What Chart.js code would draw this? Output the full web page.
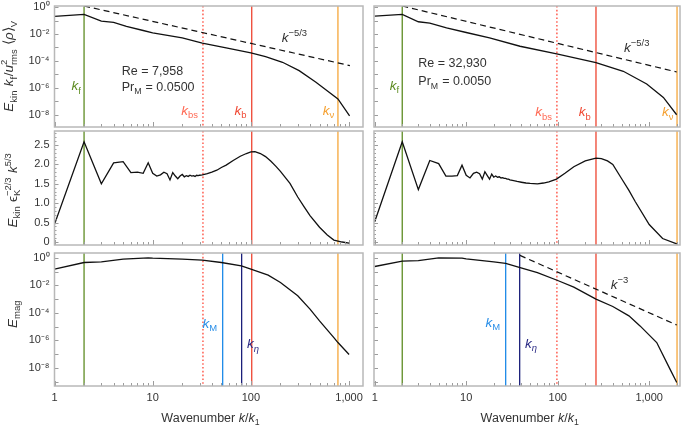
<!DOCTYPE html>
<html><head><meta charset="utf-8">
<script src="https://cdn.jsdelivr.net/npm/chart.js@4.4.1/dist/chart.umd.min.js"></script>
<style>
html,body{margin:0;padding:0;background:#fff;}
#wrap{position:relative;width:685px;height:426px;overflow:hidden;background:#fff;}
canvas{position:absolute;left:0;top:0;width:685px;height:426px;}
</style></head>
<body><div id="wrap">
<canvas id="c0" width="685" height="426"></canvas>
<canvas id="c1" width="685" height="426"></canvas>
<canvas id="c2" width="685" height="426"></canvas>
<canvas id="c3" width="685" height="426"></canvas>
<canvas id="c4" width="685" height="426"></canvas>
<canvas id="c5" width="685" height="426"></canvas>
</div>
<script>
// ================= DATA =================
// Top row: normalised kinetic spectrum
const kinK_L = [1, 2, 3, 4, 5.4, 8, 10, 20, 32, 56, 100, 141, 210, 310, 460, 770, 1012];
const kinE_L = [0.204, 0.288, 0.0912, 0.0724, 0.0363, 0.0182, 0.0123, 5.25e-3, 2.09e-3, 9.3e-4, 3.98e-4, 2.09e-4, 7.9e-5, 1.9e-5, 2.57e-6, 1.48e-7, 8.3e-9];
const kinK_R = [1, 2, 3, 4, 6.1, 10, 18, 38.7, 97.5, 262, 521, 939, 1428, 1995];
const kinE_R = [0.214, 0.288, 0.0813, 0.0646, 0.0288, 0.0129, 5.25e-3, 1.23e-3, 3.31e-4, 7.6e-5, 1.7e-5, 1.95e-6, 1.95e-7, 1.0e-8];
// k^-5/3 reference lines (end points)
const slopeK_L = [2, 1020];
const slopeE_L = [1.2, 4.5e-5];
const slopeK_R = [2, 2000];
const slopeE_R = [1.2, 1.5e-5];

// Middle row: compensated kinetic spectrum
const midK_L = [1,2,3,4,5,6,7,8,9,10,11,12,13,14,15,16,17,18,19,20,21,22,23,24,25,26,27,28,29,30,32,36,40,45,50,56,66,78,90,100,110,125,141,160,180,200,250,300,350,400,500,600,700,850,1000];
const midE_L = [0.46,2.58,1.50,2.04,2.07,1.79,1.80,1.77,2.04,1.77,1.70,1.73,1.80,1.76,1.60,1.79,1.70,1.63,1.70,1.74,1.68,1.71,1.69,1.72,1.70,1.71,1.69,1.72,1.71,1.72,1.73,1.76,1.80,1.85,1.92,1.98,2.10,2.21,2.28,2.32,2.33,2.28,2.20,2.08,1.95,1.82,1.51,1.16,0.90,0.68,0.38,0.18,0.05,0.0,-0.03];
const midK_R = [1,2,3,4,5,6,7,8,9,10,11,12,13,14,15,16,17,18,19,20,21,22,23,24,25,26,27,28,29,30,33,36,40,45,50,60,70,80,97,120,150,200,262,300,350,400,500,600,700,1000,1400,2000];
const midE_R = [0.52,2.58,1.35,2.10,2.02,1.70,1.70,1.71,1.98,1.72,1.65,1.77,1.80,1.76,1.62,1.81,1.71,1.62,1.75,1.67,1.70,1.67,1.68,1.65,1.66,1.64,1.64,1.62,1.62,1.60,1.58,1.56,1.54,1.52,1.51,1.50,1.52,1.55,1.62,1.77,1.94,2.09,2.16,2.15,2.09,2.00,1.63,1.33,1.05,0.45,0.09,-0.05];

// Bottom row: magnetic spectrum
const magK_L = [1, 2, 3, 5, 9, 10, 20, 32, 50, 80, 100, 150, 200, 300, 400, 500, 700, 770, 1000];
const magE_L = [0.151, 0.457, 0.513, 0.794, 1.0, 0.955, 0.794, 0.676, 0.457, 0.263, 0.151, 0.055, 0.0162, 1.74e-3, 1.86e-4, 2.63e-5, 1.58e-6, 6.9e-7, 9.3e-8];
const magK_R = [1, 2, 3, 5, 9, 10, 20, 27, 38, 60, 100, 150, 262, 400, 600, 794, 1208, 1687, 2000];
const magE_R = [0.234, 0.575, 0.631, 1.0, 0.955, 0.851, 0.513, 0.389, 0.2, 0.0851, 0.0224, 7.4e-3, 1.0e-3, 2.9e-4, 6.0e-5, 1.12e-5, 6.9e-7, 8.1e-9, 8.5e-10];
// k^-3 reference line (end points)
const slope3K_R = [38.7, 2000];
const slope3E_R = [1.5, 1.3e-5];

// Characteristic wavenumbers
const markerKeys = ['kf', 'kbs', 'kb', 'knu', 'kM', 'keta'];
const markerK_L = [2, 32.5, 102, 770, 51.6, 80.5];
const markerK_R = [2, 98, 262, 2014, 27, 38.4];

// Annotation texts
const reText = ['Re = 7,958', 'Re = 32,930'];
const prText = [' = 0.0500', ' = 0.0050'];

// Tick labels
const xLabelVals = [1, 10, 100, 1000];
const yLogLabelVals = [1e-8, 1e-6, 1e-4, 1e-2, 1];
const yLinLabelVals = [0, 0.5, 1.0, 1.5, 2.0, 2.5];

// ================= STYLE / LAYOUT =================
const W = 685, H = 426;
const FONT = '"Liberation Sans", Arial, sans-serif';
const TXT = '#333';
const COLS = [{l: 54.5, r: 363}, {l: 374, r: 680}];
const ROWS = [{t: 6, b: 127}, {t: 131, b: 245}, {t: 253, b: 386}];
const X_RANGE = [[1, 1386], [0.9826, 2170]];
const Y_RANGE = [[Math.pow(10, -8.91), Math.pow(10, 0.08)], [-0.077, 2.86], [Math.pow(10, -9.32), Math.pow(10, 0.35)]];
const MSTYLE = {
  kf:   {line: '#5e8c22', text: '#5e8c22', sub: 'f'},
  kbs:  {line: '#ff4536', text: '#ff6a55', sub: 'bs', dash: [1.6, 2.2]},
  kb:   {line: '#ee4430', text: '#f04a35', sub: 'b'},
  knu:  {line: '#f5a63a', text: '#f5a030', sub: 'ν'},
  kM:   {line: '#1d8ae8', text: '#2a8fe8', sub: 'M'},
  keta: {line: '#1b1f7a', text: '#2a2a85', sub: 'η'}
};

const SUP = {'-': '⁻', '0': '⁰', '1': '¹', '2': '²', '3': '³', '4': '⁴', '5': '⁵', '6': '⁶', '7': '⁷', '8': '⁸', '9': '⁹'};
function supLabel(v) {
  const e = Math.round(Math.log10(v));
  return '10' + String(e).split('').map(c => SUP[c]).join('');
}

function drawRich(ctx, parts, x, y, size, color, align) {
  const small = size * 0.7;
  const fontOf = (sz, it) => (it ? 'italic ' : '') + sz + 'px ' + FONT;
  const items = [];
  let w = 0;
  for (const p of parts) {
    if (Array.isArray(p)) {
      const t = p[0], f = p[1] || '';
      const it = f.includes('i'), sb = f.includes('b'), sp = f.includes('p');
      const sz = (sb || sp) ? small : size;
      const fnt = fontOf(sz, it);
      ctx.font = fnt;
      const tw = ctx.measureText(t).width;
      items.push({t, fnt, dx: w, dy: sb ? size * 0.28 : sp ? -size * 0.42 : 0});
      w += tw + ((sb || sp) ? 0.6 : 0);
    } else {
      const fnt = fontOf(small, false);
      ctx.font = fnt;
      const w1 = ctx.measureText(p.p).width, w2 = ctx.measureText(p.b).width;
      items.push({t: p.p, fnt, dx: w, dy: -size * 0.42});
      items.push({t: p.b, fnt, dx: w, dy: size * 0.28});
      w += Math.max(w1, w2) + 0.6;
    }
  }
  const x0 = align === 'right' ? x - w : align === 'center' ? x - w / 2 : x;
  ctx.fillStyle = color;
  ctx.textBaseline = 'alphabetic';
  ctx.textAlign = 'left';
  for (const it of items) { ctx.font = it.fnt; ctx.fillText(it.t, x0 + it.dx, y + it.dy); }
  return w;
}
function drawRichRot(ctx, parts, bx, cy, size, color) {
  ctx.save();
  ctx.translate(bx, cy);
  ctx.rotate(-Math.PI / 2);
  drawRich(ctx, parts, 0, 0, size, color, 'center');
  ctx.restore();
}

function toXY(ks, vs) { return ks.map((k, i) => ({x: k, y: vs[i]})); }
function curve(ks, vs) {
  return {data: toXY(ks, vs), borderColor: '#111', borderWidth: 1.3, pointRadius: 0, tension: 0.0, fill: false};
}
function dashed(ks, vs) {
  return {data: toXY(ks, vs), borderColor: '#111', borderWidth: 1.2, borderDash: [6, 4], pointRadius: 0, tension: 0, fill: false};
}

function panelPlugin(spec) {
  return {
    id: 'panel' + spec.id,
    beforeDatasetsDraw(chart) {
      const {ctx, chartArea: a, scales: {x}} = chart;
      ctx.save();
      spec.markers.forEach(key => {
        const k = spec.markerK[markerKeys.indexOf(key)];
        const st = MSTYLE[key];
        const px = x.getPixelForValue(k);
        ctx.strokeStyle = st.line;
        ctx.lineWidth = 1.3;
        ctx.setLineDash(st.dash || []);
        ctx.beginPath(); ctx.moveTo(px, a.top); ctx.lineTo(px, a.bottom); ctx.stroke();
      });
      ctx.restore();
    },
    afterDatasetsDraw(chart) {
      const {ctx, chartArea: a, scales: {x, y}} = chart;
      ctx.save();
      ctx.strokeStyle = '#9c9c9c';
      ctx.lineWidth = 1;
      ctx.setLineDash([]);
      ctx.beginPath();
      for (let d = 0; d <= 3; d++) {
        for (let m = 1; m <= 9; m++) {
          const v = m * Math.pow(10, d);
          if (v < x.min || v > x.max) continue;
          const px = Math.round(x.getPixelForValue(v)) + 0.5;
          if (px < a.left + 1 || px > a.right - 1) continue;
          const len = m === 1 ? 5 : 3;
          ctx.moveTo(px, a.bottom); ctx.lineTo(px, a.bottom - len);
        }
      }
      if (spec.yType === 'logarithmic') {
        for (let e = -9; e <= 0; e++) {
          const v = Math.pow(10, e);
          if (v < y.min || v > y.max) continue;
          const py = Math.round(y.getPixelForValue(v)) + 0.5;
          ctx.moveTo(a.left, py); ctx.lineTo(a.left + 4, py);
        }
      } else {
        for (let i = 0; i <= 28; i++) {
          const v = i / 10;
          const py = Math.round(y.getPixelForValue(v)) + 0.5;
          const len = (i % 5 === 0) ? 4 : 2;
          ctx.moveTo(a.left, py); ctx.lineTo(a.left + len, py);
        }
      }
      ctx.stroke();
      ctx.strokeStyle = '#b8b8b8';
      ctx.lineWidth = 1.5;
      ctx.strokeRect(a.left, a.top, a.right - a.left, a.bottom - a.top);
      ctx.restore();
    },
    afterDraw(chart) {
      if (spec.annotate) {
        const ctx = chart.ctx;
        ctx.save();
        spec.annotate(chart, ctx);
        ctx.restore();
      }
    }
  };
}

function makeChart(id, ci, ri, spec) {
  const c = COLS[ci], r = ROWS[ri];
  const xr = X_RANGE[ci], yr = Y_RANGE[ri];
  spec.id = id;
  const yAxisW = ci === 0 ? 50 : 0;
  const xAxisH = ri === 2 ? 28 : 0;
  const fitX = s => { s.height = xAxisH; s.paddingLeft = 0; s.paddingRight = 0; s.paddingTop = 0; s.paddingBottom = 0; };
  const fitY = s => { s.width = yAxisW; s.paddingLeft = 0; s.paddingRight = 0; s.paddingTop = 0; s.paddingBottom = 0; };
  const yLog = spec.yType === 'logarithmic';
  return new Chart(document.getElementById(id), {
    type: 'line',
    data: {datasets: spec.datasets},
    options: {
      responsive: false, animation: false, events: [],
      layout: {autoPadding: false, padding: {left: c.l - yAxisW, right: W - c.r, top: r.t, bottom: H - r.b - xAxisH}},
      plugins: {legend: {display: false}, tooltip: {enabled: false}},
      scales: {
        x: {
          type: 'logarithmic', min: xr[0], max: xr[1],
          grid: {display: false, drawTicks: false}, border: {display: false},
          ticks: {display: ri === 2, font: {family: FONT, size: 11}, color: TXT, padding: 5, autoSkip: false, maxRotation: 0, minRotation: 0,
                  callback: v => v.toLocaleString('en-US')},
          afterBuildTicks: s => { s.ticks = xLabelVals.filter(v => v >= s.min && v <= s.max).map(v => ({value: v})); },
          afterFit: fitX
        },
        y: {
          type: spec.yType, min: yr[0], max: yr[1],
          grid: {display: false, drawTicks: false}, border: {display: false},
          ticks: {display: ci === 0, font: {family: FONT, size: 11}, color: TXT, padding: 5, autoSkip: false,
                  callback: v => yLog ? supLabel(v) : (v === 0 ? '0' : v.toFixed(1))},
          afterBuildTicks: s => { s.ticks = (yLog ? yLogLabelVals : yLinLabelVals).map(v => ({value: v})); },
          afterFit: fitY
        }
      }
    },
    plugins: [panelPlugin(spec)]
  });
}

function kLabel(ctx, x, key, k, baseline, side, gap) {
  const px = x.getPixelForValue(k);
  const st = MSTYLE[key];
  drawRich(ctx, [['k', 'i'], [st.sub, 'b' + (key === 'keta' ? 'i' : '')]], side === 'right' ? px + gap : px - gap, baseline, 13.5, st.text, side === 'right' ? 'left' : 'right');
}

const topMarkers = ['kf', 'kbs', 'kb', 'knu'];
const botMarkers = ['kf', 'kbs', 'kM', 'keta', 'kb', 'knu'];

makeChart('c0', 0, 0, {
  yType: 'logarithmic', markers: topMarkers, markerK: markerK_L,
  datasets: [dashed(slopeK_L, slopeE_L), curve(kinK_L, kinE_L)],
  annotate(chart, ctx) {
    const x = chart.scales.x;
    kLabel(ctx, x, 'kf', markerK_L[0], 90, 'left', 2.6);
    kLabel(ctx, x, 'kbs', markerK_L[1], 114.5, 'left', 4.4);
    kLabel(ctx, x, 'kb', markerK_L[2], 114.5, 'left', 4.6);
    kLabel(ctx, x, 'knu', markerK_L[3], 114.5, 'left', 3);
    drawRich(ctx, [['k', 'i'], ['−5/3', 'p']], 281.7, 41.7, 13.5, TXT, 'left');
    drawRich(ctx, [[reText[0]]], 121.7, 74.7, 12.5, TXT, 'left');
    drawRich(ctx, [['Pr'], ['M', 'b'], [prText[0]]], 121.7, 90.7, 12.5, TXT, 'left');
    drawRichRot(ctx, [['E', 'i'], ['kin', 'b'], [' '], ['k', 'i'], ['f', 'b'], ['/'], ['u', 'i'], {p: '2', b: 'rms'}, [' '], ['⟨'], ['ρ', 'i'], ['⟩'], ['V', 'b']], 13, 66, 13.5, TXT);
  }
});
makeChart('c1', 1, 0, {
  yType: 'logarithmic', markers: topMarkers, markerK: markerK_R,
  datasets: [dashed(slopeK_R, slopeE_R), curve(kinK_R, kinE_R)],
  annotate(chart, ctx) {
    const x = chart.scales.x;
    kLabel(ctx, x, 'kf', markerK_R[0], 89.5, 'left', 2.6);
    kLabel(ctx, x, 'kbs', markerK_R[1], 116, 'left', 4.4);
    kLabel(ctx, x, 'kb', markerK_R[2], 116, 'left', 4.6);
    kLabel(ctx, x, 'knu', markerK_R[3], 116, 'left', 3);
    drawRich(ctx, [['k', 'i'], ['−5/3', 'p']], 624, 51.7, 13.5, TXT, 'left');
    drawRich(ctx, [[reText[1]]], 418.3, 67.3, 12.5, TXT, 'left');
    drawRich(ctx, [['Pr'], ['M', 'b'], [prText[1]]], 418.3, 85, 12.5, TXT, 'left');
  }
});
makeChart('c2', 0, 1, {
  yType: 'linear', markers: topMarkers, markerK: markerK_L,
  datasets: [curve(midK_L, midE_L)],
  annotate(chart, ctx) {
    drawRichRot(ctx, [['E', 'i'], ['kin', 'b'], [' '], ['ϵ'], {p: '−2/3', b: 'K'}, [' '], ['k', 'i'], ['5/3', 'p']], 16.7, 190, 13.5, TXT);
  }
});
makeChart('c3', 1, 1, {
  yType: 'linear', markers: topMarkers, markerK: markerK_R,
  datasets: [curve(midK_R, midE_R)]
});
makeChart('c4', 0, 2, {
  yType: 'logarithmic', markers: botMarkers, markerK: markerK_L,
  datasets: [curve(magK_L, magE_L)],
  annotate(chart, ctx) {
    const x = chart.scales.x, a = chart.chartArea;
    kLabel(ctx, x, 'kM', markerK_L[4], 327.7, 'left', 5);
    kLabel(ctx, x, 'keta', markerK_L[5], 348.3, 'right', 5.4);
    drawRichRot(ctx, [['E', 'i'], ['mag', 'b']], 16.7, 314, 13.5, TXT);
    drawRich(ctx, [['Wavenumber '], ['k', 'i'], ['/'], ['k', 'i'], ['1', 'b']], (a.left + a.right) / 2 + 2, 421.5, 12.5, TXT, 'center');
  }
});
makeChart('c5', 1, 2, {
  yType: 'logarithmic', markers: botMarkers, markerK: markerK_R,
  datasets: [dashed(slope3K_R, slope3E_R), curve(magK_R, magE_R)],
  annotate(chart, ctx) {
    const x = chart.scales.x, a = chart.chartArea;
    kLabel(ctx, x, 'kM', markerK_R[4], 326.7, 'left', 5);
    kLabel(ctx, x, 'keta', markerK_R[5], 347.7, 'right', 5.4);
    drawRich(ctx, [['k', 'i'], ['−3', 'p']], 610.7, 289, 13.5, TXT, 'left');
    drawRich(ctx, [['Wavenumber '], ['k', 'i'], ['/'], ['k', 'i'], ['1', 'b']], (a.left + a.right) / 2 + 3, 421.5, 12.5, TXT, 'center');
  }
});
</script>
</body></html>
